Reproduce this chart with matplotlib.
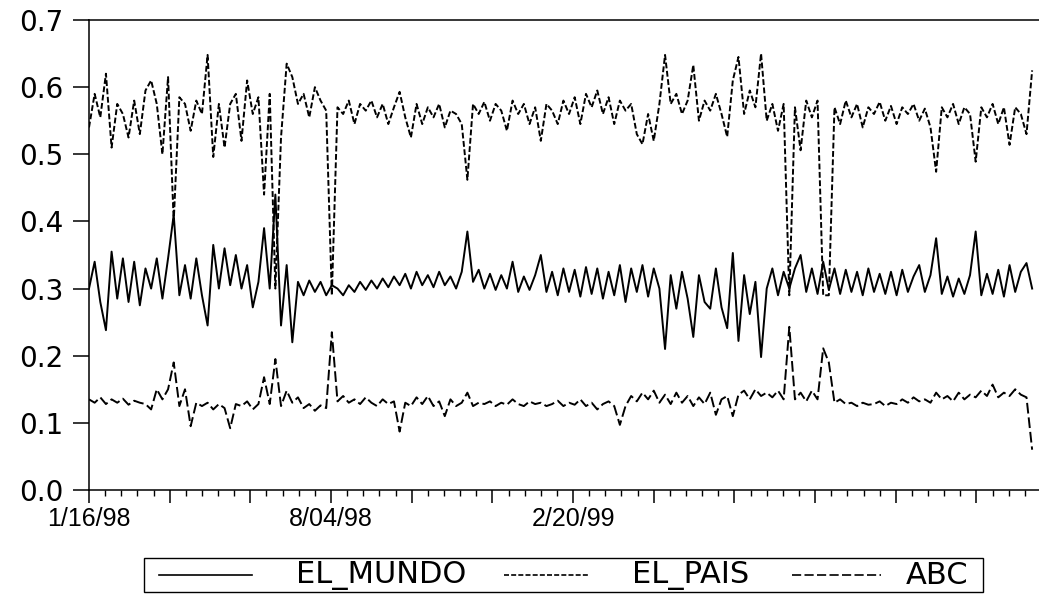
import numpy as np
import pandas as pd
import matplotlib
matplotlib.use("Agg")
import matplotlib.pyplot as plt
import matplotlib.dates as mdates
from matplotlib.lines import Line2D
from matplotlib.patches import Rectangle
from matplotlib.ticker import MultipleLocator, FormatStrFormatter

START = "1998-01-16"
SPAN_DAYS = 785
STEP = "112h"          # spacing of the readings below

# daily readership shares, in thousandths,
# one reading every ~4.7 days starting 1/16/98
el_mundo = [
    300, 340, 280, 238, 355, 285, 345, 280, 340, 275,
    330, 300, 345, 285, 345, 410, 290, 335, 285, 345,
    290, 245, 365, 300, 360, 305, 350, 300, 335, 272,
    310, 390, 300, 440, 245, 335, 220, 310, 290, 312,
    295, 310, 290, 305, 300, 290, 305, 295, 310, 298,
    312, 300, 315, 302, 318, 305, 322, 300, 325, 305,
    320, 302, 325, 305, 318, 300, 325, 385, 310, 328,
    300, 322, 298, 320, 300, 340, 295, 318, 298, 320,
    350, 295, 325, 290, 330, 295, 328, 288, 332, 292,
    330, 285, 325, 290, 335, 280, 330, 295, 335, 288,
    330, 300, 210, 320, 270, 325, 285, 228, 320, 280,
    270, 330, 272, 241, 353, 222, 320, 262, 310, 198,
    300, 330, 290, 325, 300, 330, 350, 295, 330, 292,
    340, 298, 330, 292, 328, 295, 325, 290, 330, 295,
    322, 292, 325, 290, 328, 295, 318, 335, 295, 320,
    375, 292, 318, 288, 315, 292, 320, 385, 290, 322,
    292, 328, 288, 335, 295, 325, 338, 300,
]
el_pais = [
    540, 590, 555, 620, 510, 575, 560, 525, 580, 530,
    595, 610, 575, 500, 615, 400, 585, 575, 535, 580,
    560, 648, 496, 575, 510, 575, 590, 520, 610, 560,
    585, 440, 590, 300, 525, 635, 615, 575, 590, 555,
    600, 580, 565, 290, 570, 560, 580, 545, 575, 565,
    580, 555, 575, 545, 570, 593, 555, 525, 575, 545,
    570, 555, 575, 540, 565, 560, 545, 462, 575, 560,
    578, 550, 575, 565, 535, 580, 560, 575, 545, 570,
    520, 575, 565, 545, 580, 560, 585, 545, 590, 570,
    595, 560, 585, 545, 580, 565, 575, 530, 515, 560,
    520, 575, 648, 575, 590, 560, 580, 633, 550, 580,
    565, 590, 560, 526, 610, 645, 560, 595, 570, 650,
    550, 575, 535, 575, 290, 570, 506, 580, 555, 580,
    290, 290, 570, 545, 580, 555, 575, 540, 570, 560,
    578, 550, 572, 545, 570, 560, 575, 550, 568, 540,
    474, 570, 555, 575, 545, 570, 560, 489, 570, 555,
    575, 545, 570, 514, 570, 560, 530, 625,
]
abc = [
    135, 130, 138, 128, 135, 130, 136, 127, 133, 130,
    128, 120, 150, 135, 150, 190, 125, 150, 95, 130,
    125, 130, 120, 128, 122, 92, 128, 125, 132, 120,
    128, 168, 128, 195, 125, 148, 130, 138, 122, 128,
    118, 126, 122, 235, 132, 140, 130, 135, 128, 138,
    130, 125, 135, 128, 132, 87, 130, 125, 138, 128,
    140, 125, 132, 110, 135, 125, 130, 145, 125, 130,
    128, 132, 125, 130, 127, 135, 128, 125, 132, 128,
    130, 125, 128, 133, 125, 130, 127, 135, 125, 130,
    120, 128, 132, 125, 97, 125, 140, 132, 145, 135,
    148, 130, 142, 128, 145, 130, 140, 125, 138, 128,
    145, 112, 135, 140, 110, 142, 148, 135, 150, 140,
    145, 138, 148, 135, 243, 135, 145, 132, 148, 135,
    211, 190, 130, 135, 128, 130, 125, 130, 127, 128,
    132, 125, 130, 128, 135, 130, 138, 132, 135, 130,
    145, 135, 140, 132, 145, 135, 142, 138, 148, 140,
    157, 138, 145, 140, 150, 142, 138, 60,
]
series_names = ["EL_MUNDO", "EL_PAIS", "ABC"]
n_labels = 3           # the chart only labels the first three dates

dates = pd.date_range(START, periods=len(el_mundo), freq=STEP)
t0 = pd.Timestamp(START)
t_end = t0 + pd.Timedelta(days=SPAN_DAYS)

W, H = 1039, 597
fig = plt.figure(figsize=(W / 100, H / 100), dpi=100)
ax = fig.add_axes([89 / W, 1 - 490 / H, 1 - 89 / W, 470 / H])

line_styles = ["-", (0, (3.0, 1.3)), (0, (5.5, 2.0))]
for vals, name, ls in zip([el_mundo, el_pais, abc], series_names, line_styles):
    ax.plot(dates, np.array(vals) / 1000.0, color="black", lw=1.4, ls=ls, label=name)

ax.set_xlim(t0, t_end)
ax.set_ylim(0, 0.7)

# y axis
ax.yaxis.set_major_locator(MultipleLocator(0.1))
ax.yaxis.set_major_formatter(FormatStrFormatter("%.1f"))
ax.tick_params(axis="y", direction="out", length=11.5, width=1.1, pad=7,
               labelsize=20)
for lab in ax.get_yticklabels():
    lab.set_family("DejaVu Sans")

# x axis: labels every 200 days, 3 major and 15 minor steps between them
major_step = pd.Timedelta(days=200) / 3
minor_step = major_step / 5
n_major = int((t_end - t0) / major_step) + 1
n_minor = int((t_end - t0) / minor_step) + 1
major = [t0 + i * major_step for i in range(n_major)]
minor = [t0 + j * minor_step for j in range(n_minor)]
ax.set_xticks(mdates.date2num(major))
ax.set_xticks(mdates.date2num(minor), minor=True)
labels = [f"{d.month}/{d.day:02d}/{d.year % 100:02d}"
          if i % 3 == 0 and i // 3 < n_labels else ""
          for i, d in enumerate(major)]
ax.set_xticklabels(labels, family="Liberation Sans", fontsize=18)
ax.tick_params(axis="x", which="major", direction="out", length=9.4, width=1.1, pad=3)
ax.tick_params(axis="x", which="minor", direction="out", length=4.3, width=1.0)

for side in ["left", "bottom", "top"]:
    ax.spines[side].set_linewidth(1.1)
ax.spines["right"].set_visible(False)

# legend box drawn underneath, EViews style
fig.add_artist(Rectangle((144 / W, 1 - 592 / H), (983 - 144) / W, 34 / H,
                         transform=fig.transFigure, fill=False, ec="black", lw=1.0))
handles = [(159, 252), (504, 590), (792, 881)]
text_x = [381, 691, 937]
ly = 1 - 575 / H
for (h0, h1), tx, name, ls in zip(handles, text_x, series_names, line_styles):
    fig.add_artist(Line2D([h0 / W, h1 / W], [ly, ly], transform=fig.transFigure,
                          color="black", lw=1.2, ls=ls))
    fig.text(tx / W, ly, name, ha="center", va="center", fontsize=22,
             family="DejaVu Sans")

fig.savefig("out.png", dpi=100)
